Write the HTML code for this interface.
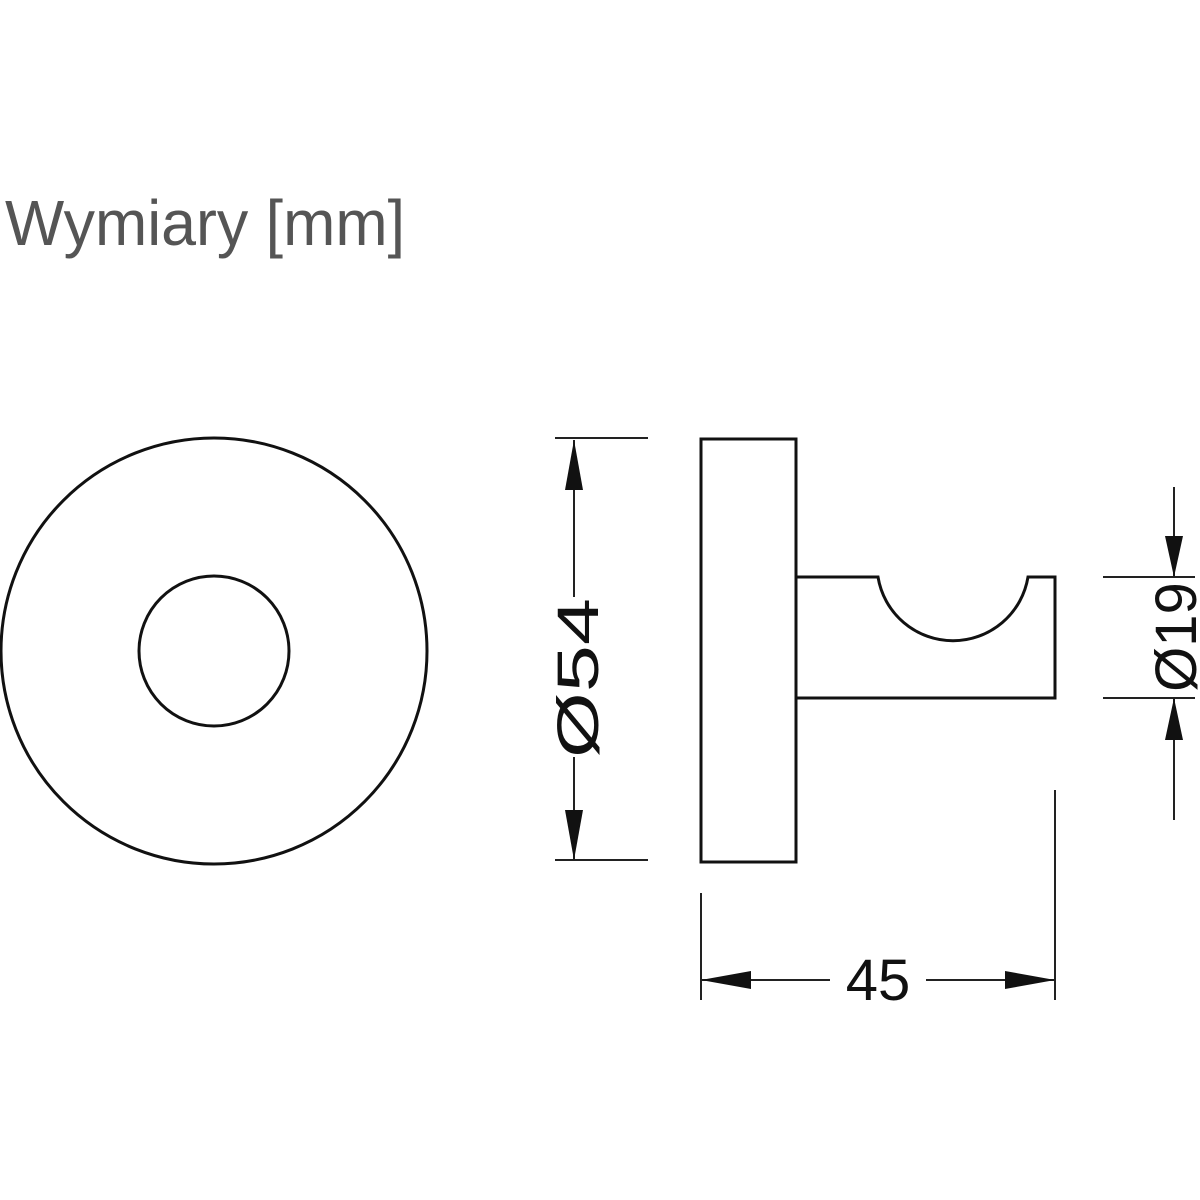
<!DOCTYPE html>
<html><head><meta charset="utf-8"><style>body{margin:0;background:#fff}svg{display:block}</style></head>
<body>
<svg width="1200" height="1200" viewBox="0 0 1200 1200" xmlns="http://www.w3.org/2000/svg">
<rect width="1200" height="1200" fill="#fff"/>
<text x="5" y="245" font-family="Liberation Sans, sans-serif" font-size="64" fill="#555" textLength="400" lengthAdjust="spacingAndGlyphs">Wymiary [mm]</text>
<g fill="none" stroke="#111" stroke-width="3">
<circle cx="214" cy="651" r="213"/>
<circle cx="214" cy="651" r="75"/>
<rect x="701" y="439" width="95" height="423"/>
<path d="M796 577 H878 A76 76 0 0 0 1028 577 H1055 V698 H796"/>
</g>
<g stroke="#222" stroke-width="2" fill="none">
<line x1="555" y1="438" x2="648" y2="438"/>
<line x1="555" y1="860" x2="648" y2="860"/>
<line x1="574" y1="440" x2="574" y2="597"/>
<line x1="574" y1="757" x2="574" y2="860"/>
<line x1="1103" y1="577" x2="1195" y2="577"/>
<line x1="1103" y1="698" x2="1195" y2="698"/>
<line x1="1174" y1="487" x2="1174" y2="577"/>
<line x1="1174" y1="698" x2="1174" y2="820"/>
<line x1="701" y1="893" x2="701" y2="1000"/>
<line x1="1055" y1="790" x2="1055" y2="1000"/>
<line x1="701" y1="980" x2="830" y2="980"/>
<line x1="926" y1="980" x2="1055" y2="980"/>
</g>
<g fill="#111">
<polygon points="574,440 565,490 583,490"/>
<polygon points="574,860 565,810 583,810"/>
<polygon points="1174,577 1165,536 1183,536"/>
<polygon points="1174,698 1165,740 1183,740"/>
<polygon points="701,980 751,971 751,989"/>
<polygon points="1055,980 1005,971 1005,989"/>
</g>
<g font-family="Liberation Sans, sans-serif" font-size="58" fill="#111" text-anchor="middle">
<text transform="translate(598,678) rotate(-90)" x="0" y="0" dominant-baseline="auto" textLength="160" lengthAdjust="spacingAndGlyphs" dx="80" text-anchor="end">Ø54</text>
<text transform="translate(1196,637) rotate(-90)" x="0" y="0">Ø19</text>
<text x="878" y="1000">45</text>
</g>
</svg>
</body></html>
